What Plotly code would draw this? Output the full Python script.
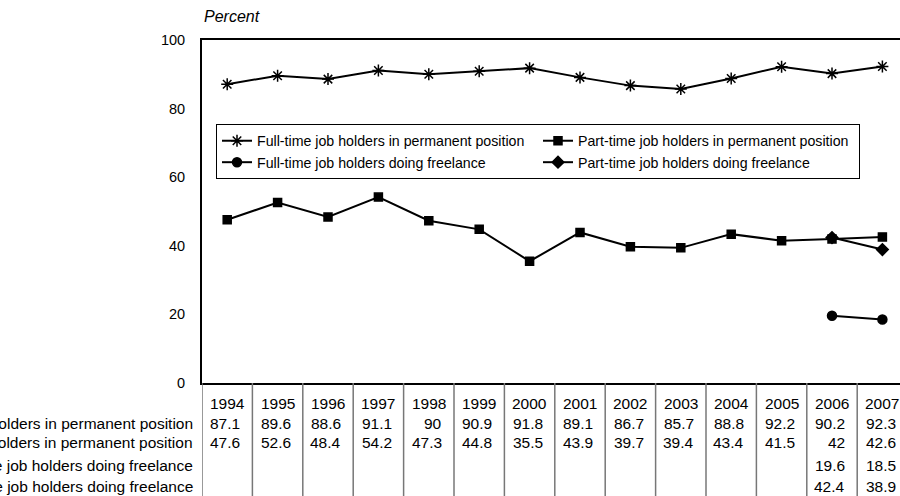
import plotly.graph_objects as go

years = [1994, 1995, 1996, 1997, 1998, 1999, 2000, 2001, 2002, 2003, 2004, 2005, 2006, 2007]
ft_perm = [87.1, 89.6, 88.6, 91.1, 90, 90.9, 91.8, 89.1, 86.7, 85.7, 88.8, 92.2, 90.2, 92.3]
pt_perm = [47.6, 52.6, 48.4, 54.2, 47.3, 44.8, 35.5, 43.9, 39.7, 39.4, 43.4, 41.5, 42, 42.6]
ft_free = [None] * 12 + [19.6, 18.5]
pt_free = [None] * 12 + [42.4, 38.9]

series_names = [
    "Full-time job holders in permanent position",
    "Part-time job holders in permanent position",
    "Full-time job holders doing freelance",
    "Part-time job holders doing freelance",
]
series_values = [ft_perm, pt_perm, ft_free, pt_free]
series_symbols = ["asterisk-open", "square", "circle", "diamond"]
series_sizes = [10, 8, 9, 9]

W, H = 900, 496
ML, MR, MT, MB = 202, 0, 40, 113
plot_w = W - ML - MR
plot_h = H - MT - MB
FONT = "Liberation Sans, Arial, sans-serif"
TFONT = 15.5
COLW = 50.4

fig = go.Figure()
for name, vals, sym, sz in zip(series_names, series_values, series_symbols, series_sizes):
    fig.add_trace(go.Scatter(
        x=years, y=vals, name=name, mode="lines+markers",
        line=dict(color="black", width=2),
        marker=dict(symbol=sym, size=sz, color="black",
                    line=dict(color="black", width=1.5)),
        connectgaps=False,
    ))


def py_to_paper(py):
    return (H - MB - py) / plot_h


row_y = [403, 423, 443, 465, 486]
annotations = []
for yr in years:
    annotations.append(dict(x=yr, y=py_to_paper(row_y[0]), xref="x", yref="paper",
                            text=str(yr), showarrow=False, xanchor="center",
                            yanchor="middle", font=dict(size=TFONT, color="black", family=FONT)))
for r, (name, vals) in enumerate(zip(series_names, series_values)):
    yy = py_to_paper(row_y[r + 1])
    annotations.append(dict(x=-7 / plot_w, y=yy, xref="paper", yref="paper",
                            text=name, showarrow=False, xanchor="right", yanchor="middle",
                            font=dict(size=TFONT, color="black", family=FONT)))
    for yr, v in zip(years, vals):
        if v is None:
            continue
        annotations.append(dict(x=yr + 0.3, y=yy, xref="x", yref="paper",
                                text=f"{v:g}", showarrow=False, xanchor="right",
                                yanchor="middle",
                                font=dict(size=TFONT, color="black", family=FONT)))

annotations.append(dict(x=0, y=py_to_paper(17), xref="paper", yref="paper",
                        text="<i>Percent</i>", showarrow=False, xanchor="left",
                        yanchor="middle", font=dict(size=16, color="black", family=FONT)))

shapes = []
for b in [years[0] - 0.5] + [yr + 0.5 for yr in years]:
    shapes.append(dict(type="line", xref="x", yref="paper", x0=b, x1=b,
                       y0=0, y1=py_to_paper(H + 2),
                       line=dict(color="#777777", width=1.5)))

fig.update_layout(
    width=W, height=H,
    margin=dict(l=ML, r=MR, t=MT, b=MB, pad=0),
    paper_bgcolor="white", plot_bgcolor="white",
    font=dict(family=FONT, size=14, color="black"),
    showlegend=True,
    legend=dict(
        orientation="h", x=14 / plot_w, y=py_to_paper(124),
        xanchor="left", yanchor="top",
        bordercolor="black", borderwidth=1, bgcolor="white",
        font=dict(size=14.2, family=FONT, color="black"),
        entrywidth=276, entrywidthmode="pixels",
        traceorder="normal",
    ),
    xaxis=dict(
        range=[years[0] - 0.5, years[0] - 0.5 + plot_w / COLW],
        showticklabels=False, ticks="", showgrid=False, zeroline=False,
        showline=True, mirror=True, linecolor="black", linewidth=2,
    ),
    yaxis=dict(
        range=[0, 100], tickvals=[0, 20, 40, 60, 80, 100],
        ticks="", showgrid=False, zeroline=False,
        showline=True, linecolor="black", linewidth=2,
        ticklabelstandoff=12,
        tickfont=dict(size=14.5, family=FONT, color="black"),
    ),
    annotations=annotations,
    shapes=shapes,
)

fig.write_html("out.html",
               config={"displayModeBar": False},
               post_script="document.body.style.margin='0';document.body.style.overflow='hidden';")
